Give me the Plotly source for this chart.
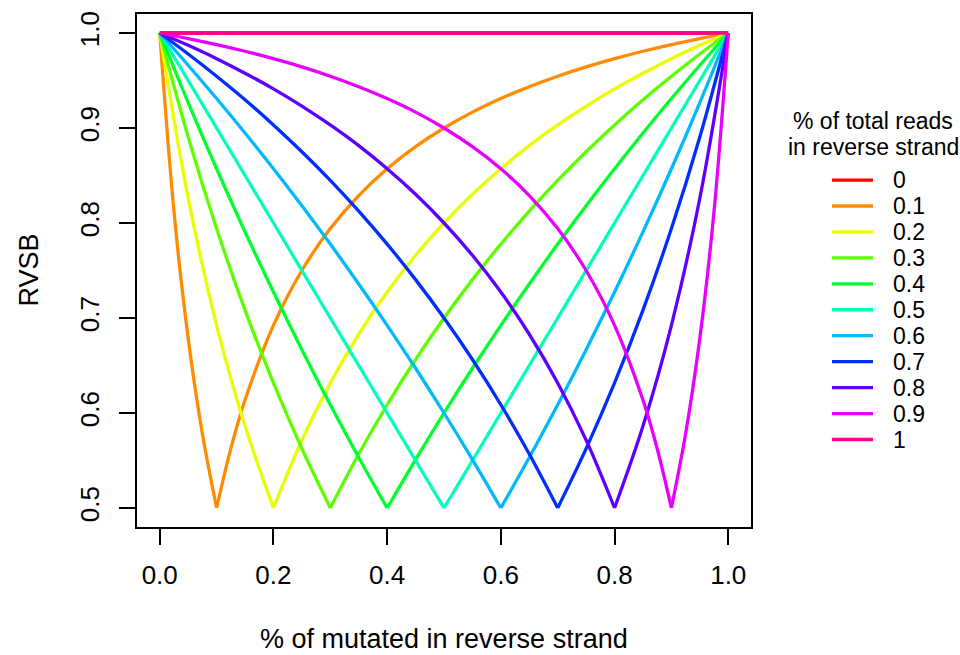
import plotly.graph_objects as go

# Fraction of total reads in the reverse strand (one curve per value)
strand_fractions = ["0", "0.1", "0.2", "0.3", "0.4", "0.5", "0.6", "0.7", "0.8", "0.9", "1"]

# Fraction of mutated reads in the reverse strand (x positions)
x_common = [0.00, 0.05, 0.10, 0.15, 0.20, 0.25, 0.30, 0.35, 0.40, 0.45, 0.50,
            0.55, 0.60, 0.65, 0.70, 0.75, 0.80, 0.85, 0.90, 0.95, 1.00]
x_p01 = [0.00, 0.025, 0.05, 0.075, 0.10, 0.125, 0.15, 0.20, 0.25, 0.30, 0.35, 0.40,
         0.45, 0.50, 0.55, 0.60, 0.65, 0.70, 0.75, 0.80, 0.85, 0.90, 0.95, 1.00]
x_p09 = [0.00, 0.05, 0.10, 0.15, 0.20, 0.25, 0.30, 0.35, 0.40, 0.45, 0.50, 0.55,
         0.60, 0.65, 0.70, 0.75, 0.80, 0.85, 0.875, 0.90, 0.925, 0.95, 0.975, 1.00]

# RVSB values
rvsb_p00 = [1.0] * 21
rvsb_p01 = [1.0, 0.8125, 0.6786, 0.5781, 0.5, 0.5625, 0.6136, 0.6923, 0.75, 0.7941, 0.8289,
            0.8571, 0.8804, 0.9, 0.9167, 0.9310, 0.9435, 0.9545, 0.9643, 0.9730, 0.9808,
            0.9878, 0.9942, 1.0]
rvsb_p02 = [1.0, 0.8261, 0.6923, 0.5862, 0.5, 0.5714, 0.6316, 0.6829, 0.7273, 0.7660, 0.8,
            0.8302, 0.8571, 0.8814, 0.9032, 0.9231, 0.9412, 0.9577, 0.9730, 0.9870, 1.0]
rvsb_p03 = [1.0, 0.8906, 0.7941, 0.7083, 0.6316, 0.5625, 0.5, 0.5568, 0.6087, 0.6563, 0.7,
            0.7404, 0.7778, 0.8125, 0.8448, 0.875, 0.9032, 0.9297, 0.9545, 0.9779, 1.0]
rvsb_p04 = [1.0, 0.9268, 0.8571, 0.7907, 0.7273, 0.6667, 0.6087, 0.5532, 0.5, 0.5510, 0.6,
            0.6471, 0.6923, 0.7358, 0.7778, 0.8182, 0.8571, 0.8947, 0.9310, 0.9661, 1.0]
rvsb_p05 = [1.0, 0.95, 0.9, 0.85, 0.8, 0.75, 0.7, 0.65, 0.6, 0.55, 0.5,
            0.55, 0.6, 0.65, 0.7, 0.75, 0.8, 0.85, 0.9, 0.95, 1.0]
rvsb_p06 = [1.0, 0.9661, 0.9310, 0.8947, 0.8571, 0.8182, 0.7778, 0.7358, 0.6923, 0.6471, 0.6,
            0.5510, 0.5, 0.5532, 0.6087, 0.6667, 0.7273, 0.7907, 0.8571, 0.9268, 1.0]
rvsb_p07 = [1.0, 0.9779, 0.9545, 0.9297, 0.9032, 0.875, 0.8448, 0.8125, 0.7778, 0.7404, 0.7,
            0.6563, 0.6087, 0.5568, 0.5, 0.5625, 0.6316, 0.7083, 0.7941, 0.8906, 1.0]
rvsb_p08 = [1.0, 0.9870, 0.9730, 0.9577, 0.9412, 0.9231, 0.9032, 0.8814, 0.8571, 0.8302, 0.8,
            0.7660, 0.7273, 0.6829, 0.6316, 0.5714, 0.5, 0.5862, 0.6923, 0.8261, 1.0]
rvsb_p09 = [1.0, 0.9942, 0.9878, 0.9808, 0.9730, 0.9643, 0.9545, 0.9435, 0.9310, 0.9167, 0.9,
            0.8804, 0.8571, 0.8289, 0.7941, 0.75, 0.6923, 0.6136, 0.5625, 0.5, 0.5781,
            0.6786, 0.8125, 1.0]
rvsb_p10 = [1.0] * 21

x_tick_vals = [0.0, 0.2, 0.4, 0.6, 0.8, 1.0]
x_tick_text = ["0.0", "0.2", "0.4", "0.6", "0.8", "1.0"]
y_tick_vals = [0.5, 0.6, 0.7, 0.8, 0.9, 1.0]
y_tick_text = ["0.5", "0.6", "0.7", "0.8", "0.9", "1.0"]

series_x = [x_common, x_p01, x_common, x_common, x_common, x_common,
            x_common, x_common, x_common, x_p09, x_common]
series_y = [rvsb_p00, rvsb_p01, rvsb_p02, rvsb_p03, rvsb_p04, rvsb_p05,
            rvsb_p06, rvsb_p07, rvsb_p08, rvsb_p09, rvsb_p10]

# rainbow(11) palette
colors = ["#FF0000", "#FF8B00", "#E8FF00", "#5DFF00", "#00FF2E", "#00FFB9",
          "#00B9FF", "#002EFF", "#5D00FF", "#E800FF", "#FF008B"]

FONT = "Liberation Sans, Arial, Helvetica, sans-serif"
W, H = 960, 655
ML, MR, MT, MB = 137, 209, 11, 128
PW, PH = W - ML - MR, H - MT - MB
LINE_W = 3.3


def px_x(px):
    return (px - ML) / PW


def px_y(py):
    return 1 - (py - MT) / PH


def split_at_vertex(xs, ys):
    # break each curve at its minimum so each branch is smoothed on its own
    k = ys.index(min(ys))
    if min(ys) == max(ys):
        return list(xs), list(ys)
    return (list(xs[:k + 1]) + [None] + list(xs[k:]),
            list(ys[:k + 1]) + [None] + list(ys[k:]))


fig = go.Figure()
for name, xs, ys, col in zip(strand_fractions, series_x, series_y, colors):
    sx, sy = split_at_vertex(xs, ys)
    fig.add_trace(go.Scatter(
        x=sx, y=sy, mode="lines", name=name,
        line=dict(color=col, width=LINE_W, shape="spline"),
        connectgaps=False, showlegend=False,
    ))

axis_common = dict(
    showgrid=False, zeroline=False, showline=True, mirror=True,
    linecolor="black", linewidth=2, ticks="outside", ticklen=16,
    tickwidth=2, tickcolor="black",
    tickfont=dict(family=FONT, size=26, color="black"),
)
fig.update_xaxes(range=[-0.04, 1.04], tickvals=x_tick_vals, ticktext=x_tick_text,
                 ticklabelstandoff=8, **axis_common)
fig.update_yaxes(range=[0.48, 1.02], tickvals=y_tick_vals, ticktext=y_tick_text,
                 tickangle=-90, ticklabelstandoff=10, **axis_common)

annotations = [
    dict(text="% of mutated in reverse strand", x=0.5, y=px_y(640),
         xref="paper", yref="paper", xanchor="center", yanchor="middle",
         showarrow=False, font=dict(family=FONT, size=27, color="black")),
    dict(text="RVSB", x=px_x(28), y=0.5, textangle=-90,
         xref="paper", yref="paper", xanchor="center", yanchor="middle",
         showarrow=False, font=dict(family=FONT, size=27, color="black")),
    dict(text="% of total reads", x=px_x(873), y=px_y(119),
         xref="paper", yref="paper", xanchor="center", yanchor="middle",
         showarrow=False, font=dict(family=FONT, size=23, color="black")),
    dict(text="in reverse strand", x=px_x(873), y=px_y(145),
         xref="paper", yref="paper", xanchor="center", yanchor="middle",
         showarrow=False, font=dict(family=FONT, size=23, color="black")),
]
shapes = []
for i, (name, col) in enumerate(zip(strand_fractions, colors)):
    row_y = px_y(178 + 26.1 * i)
    shapes.append(dict(type="line", xref="paper", yref="paper",
                       x0=px_x(832), x1=px_x(873), y0=row_y, y1=row_y,
                       line=dict(color=col, width=LINE_W)))
    annotations.append(dict(text=name, x=px_x(891), y=row_y,
                            xref="paper", yref="paper", xanchor="left",
                            yanchor="middle", showarrow=False,
                            font=dict(family=FONT, size=23, color="black")))

fig.update_layout(
    width=W, height=H,
    margin=dict(l=ML, r=MR, t=MT, b=MB),
    paper_bgcolor="white", plot_bgcolor="white",
    showlegend=False,
    annotations=annotations, shapes=shapes,
)

fig.write_html("out.html")
